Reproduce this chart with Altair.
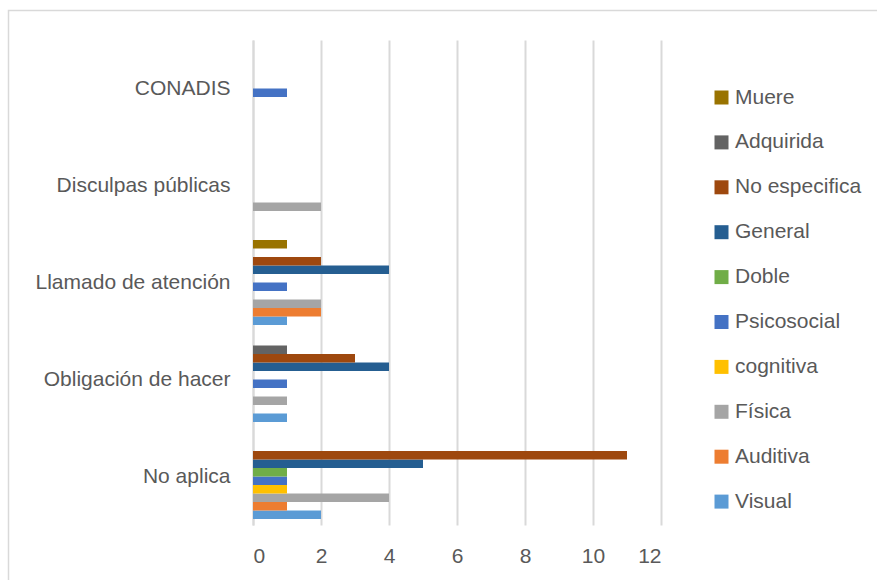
import altair as alt
import pandas as pd

# Measures, bottom to top on the chart
categories = ["No aplica", "Obligación de hacer", "Llamado de atención",
              "Disculpas públicas", "CONADIS"]

# Counts per disability type, in the same order as `categories`
visual = [2, 1, 1, 0, 0]
auditiva = [1, 0, 2, 0, 0]
fisica = [4, 1, 2, 2, 0]
cognitiva = [1, 0, 0, 0, 0]
psicosocial = [1, 1, 1, 0, 1]
doble = [1, 0, 0, 0, 0]
general = [5, 4, 4, 0, 0]
no_especifica = [11, 3, 2, 0, 0]
adquirida = [0, 1, 0, 0, 0]
muere = [0, 0, 1, 0, 0]

series_names = ["Visual", "Auditiva", "Física", "cognitiva", "Psicosocial",
                "Doble", "General", "No especifica", "Adquirida", "Muere"]
series_values = [visual, auditiva, fisica, cognitiva, psicosocial,
                 doble, general, no_especifica, adquirida, muere]
series_colors = ["#5B9BD5", "#ED7D31", "#A5A5A5", "#FFC000", "#4472C4",
                 "#70AD47", "#255E91", "#9E480E", "#636363", "#997300"]

rows = []
for name, vals in zip(series_names, series_values):
    for cat, v in zip(categories, vals):
        rows.append({"categoria": cat, "tipo": name, "valor": v})
df = pd.DataFrame(rows)

# top-to-bottom orders used by the band scales and the legend
cat_order = categories[::-1]
type_order = series_names[::-1]
color_order = series_colors[::-1]

FONT = "Liberation Sans"
TEXT = "#595959"
GRID = "#D9D9D9"

W, H = 408, 485
LEFT, TOP = 253, 40

bars = alt.Chart(df).transform_filter(alt.datum.valor > 0).mark_bar().encode(
    y=alt.Y("categoria:N", sort=cat_order, title=None,
            scale=alt.Scale(paddingInner=0.124, paddingOuter=0.062),
            axis=alt.Axis(labelFont=FONT, labelFontSize=21, labelColor=TEXT,
                          labelPadding=23, ticks=False, domainColor=GRID,
                          domainWidth=2, grid=False, labelLimit=300)),
    yOffset=alt.YOffset("tipo:N", sort=type_order,
                        scale=alt.Scale(domain=type_order, paddingInner=0, paddingOuter=0)),
    x=alt.X("valor:Q", title=None,
            scale=alt.Scale(domain=[0, 12], nice=False),
            axis=alt.Axis(values=[0, 2, 4, 6, 8, 10, 12], labelFont=FONT,
                          labelFontSize=21, labelColor=TEXT, labelPadding=20,
                          ticks=False, domain=False, grid=True,
                          gridColor=GRID, gridWidth=2)),
    color=alt.Color("tipo:N", sort=type_order,
                    scale=alt.Scale(domain=type_order, range=color_order),
                    legend=alt.Legend(title=None, orient="none",
                                      legendX=458, legendY=47,
                                      symbolType="square", symbolSize=196,
                                      symbolStrokeWidth=0,
                                      labelFont=FONT, labelFontSize=21,
                                      labelColor=TEXT, labelOffset=3,
                                      rowPadding=22.9, padding=0)),
)

# light outer frame around the whole chart
frame = alt.Chart(pd.DataFrame({"k": [0]})).mark_rect(
    fill=None, stroke=GRID, strokeWidth=1.5
).encode(
    x=alt.value(8.5 - LEFT), x2=alt.value(877 - LEFT + 5),
    y=alt.value(10.5 - TOP), y2=alt.value(582 - TOP),
)

chart = alt.layer(frame, bars).properties(
    width=W, height=H,
    autosize=alt.AutoSizeParams(type="none"),
    padding={"left": LEFT, "top": TOP, "right": 877 - LEFT - W, "bottom": 580 - TOP - H},
    background="white",
).configure_view(stroke=None)

chart.save("out.html", embed_options={"renderer": "svg", "actions": False})
